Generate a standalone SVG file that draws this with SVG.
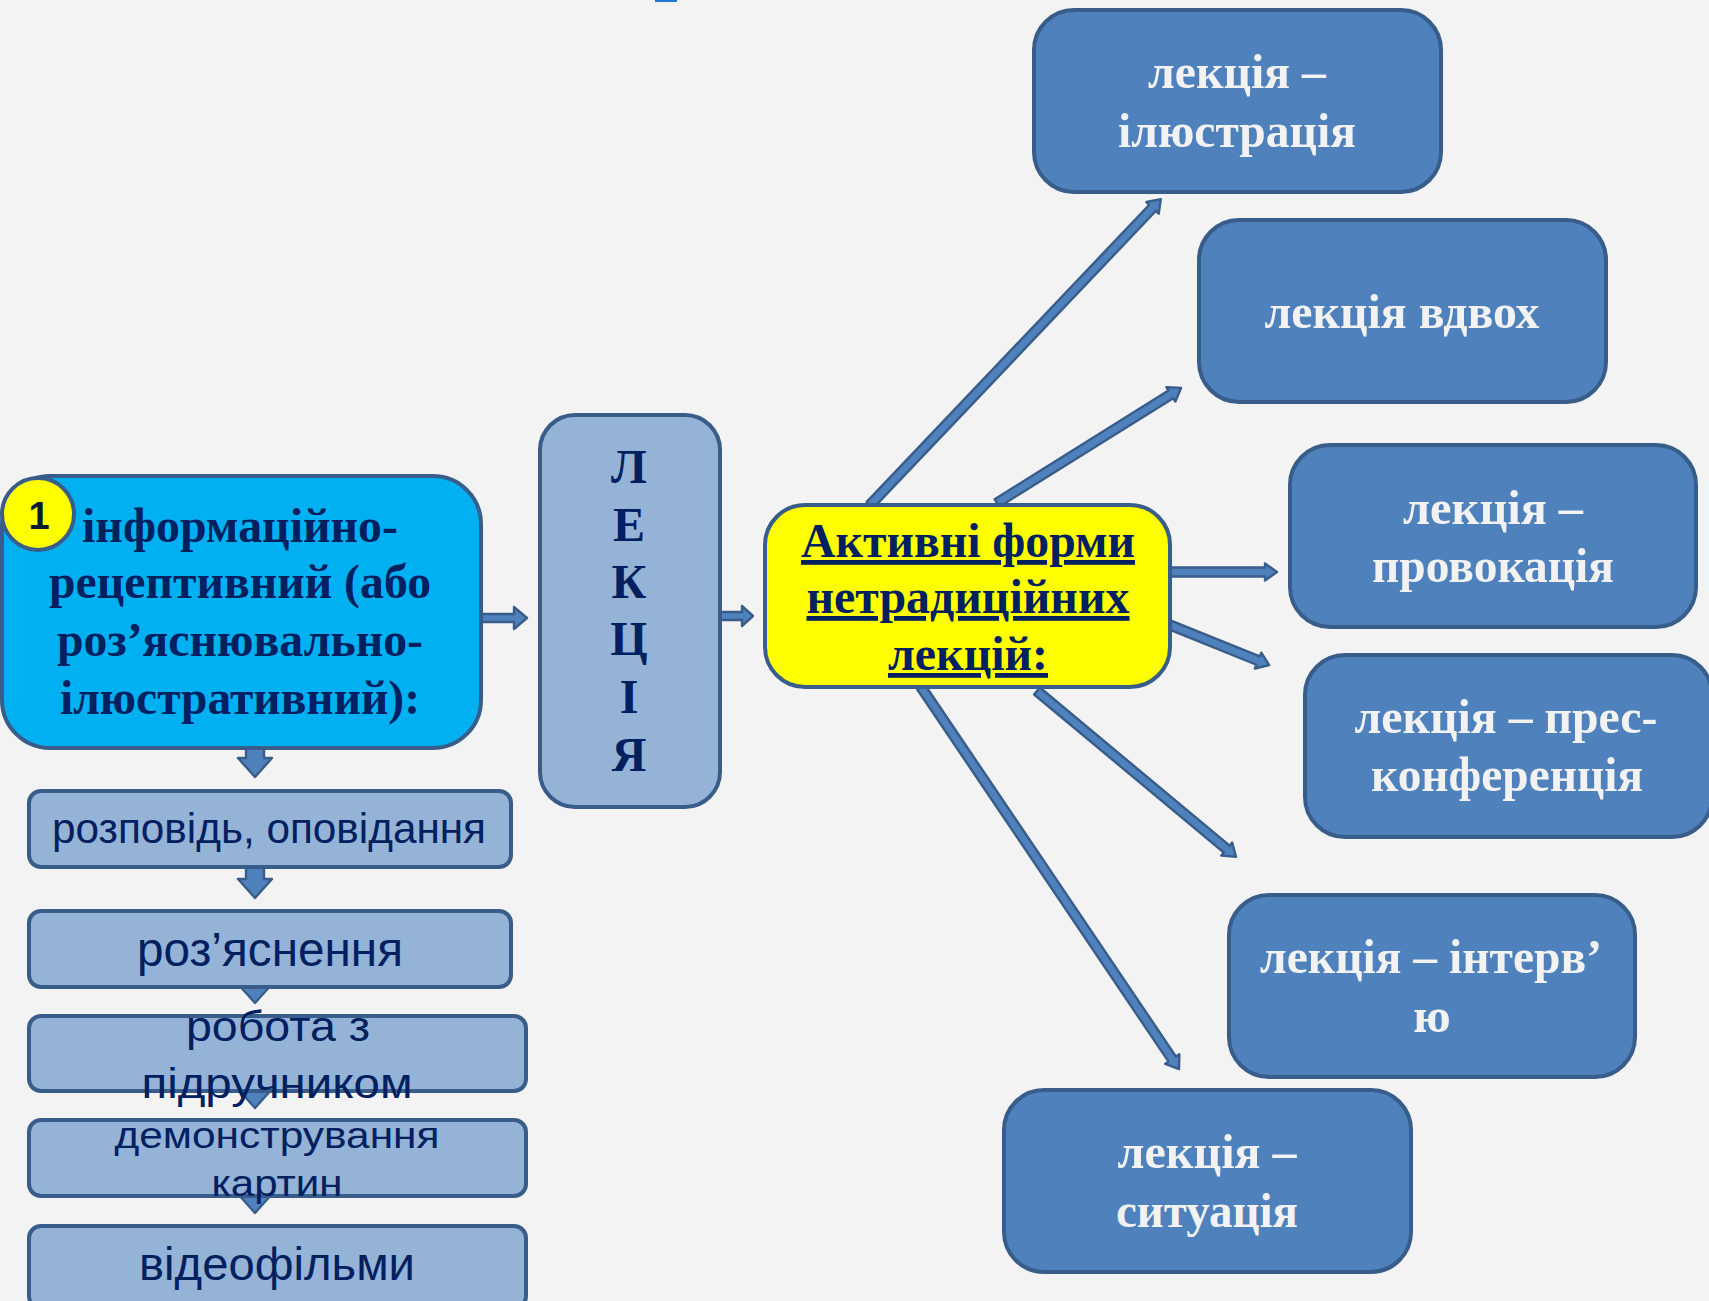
<svg xmlns="http://www.w3.org/2000/svg" width="1709" height="1301" viewBox="0 0 1709 1301">
<style>
.bg{fill:#f3f3f3}
.dark{fill:#4f81bd;stroke:#385d8a;stroke-width:4}
.light{fill:#95b3d7;stroke:#385d8a;stroke-width:4}
.arr{fill:#4f81bd;stroke:#385d8a;stroke-width:2.4;stroke-linejoin:round}
.ser{font-family:"Liberation Serif","Times New Roman",serif;font-weight:bold;text-anchor:middle}
.navy{fill:#002060}
.wh{fill:#f2f2f2}
.sans{font-family:"Liberation Sans",Arial,sans-serif;text-anchor:middle;fill:#002060}
</style>
<rect class="bg" x="0" y="0" width="1709" height="1301"/>
<rect x="655" y="0" width="22" height="2" fill="#1f78d1"/>

<g id="connectors">
  <path class="arr" d="M481,614 H514 V607 L527,618 L514,629 V622 H481 Z"/>
  <path class="arr" d="M720,612 H742 V606 L753,616 L742,626 V620 H720 Z"/>
  <path class="arr" d="M246,748 H264 V758 H272 L255,777 L238,758 H246 Z"/>
  <path class="arr" d="M246,867 H264 V879 H272 L255,898 L238,879 H246 Z"/>
  <path class="arr" d="M246,975 H264 V984 H272 L255,1003 L238,984 H246 Z"/>
  <path class="arr" d="M246,1080 H264 V1089 H272 L255,1108 L238,1089 H246 Z"/>
  <path class="arr" d="M246,1185 H264 V1194 H272 L255,1213 L238,1194 H246 Z"/>
  <g transform="translate(870,505) rotate(-46.44)"><path class="arr" d="M0,-4.5 H410 V-8.5 L422,0 L410,8.5 V4.5 H0 Z"/></g>
  <g transform="translate(997,503) rotate(-32)"><path class="arr" d="M0,-4.5 H205 V-8.5 L217,0 L205,8.5 V4.5 H0 Z"/></g>
  <g transform="translate(1170,572)"><path class="arr" d="M0,-4.5 H95 V-8.5 L107,0 L95,8.5 V4.5 H0 Z"/></g>
  <g transform="translate(1170,625) rotate(22)"><path class="arr" d="M0,-4.5 H95 V-8.5 L107,0 L95,8.5 V4.5 H0 Z"/></g>
  <g transform="translate(1037,691) rotate(39.8)"><path class="arr" d="M0,-4.5 H247 V-8.5 L259,0 L247,8.5 V4.5 H0 Z"/></g>
  <g transform="translate(921,687) rotate(55.97)"><path class="arr" d="M0,-4.5 H449 V-8.5 L461,0 L449,8.5 V4.5 H0 Z"/></g>
</g>

<g id="node-info">
  <rect x="2" y="476" width="479" height="272" rx="48" fill="#00b0f0" stroke="#385d8a" stroke-width="4"/>
  <text class="ser navy" font-size="48"><tspan x="240" y="542" textLength="316" lengthAdjust="spacingAndGlyphs">інформаційно-</tspan><tspan x="240" y="598" textLength="382" lengthAdjust="spacingAndGlyphs">рецептивний (або</tspan><tspan x="240" y="656" textLength="366" lengthAdjust="spacingAndGlyphs">роз’яснювально-</tspan><tspan x="240" y="714" textLength="360" lengthAdjust="spacingAndGlyphs">ілюстративний):</tspan></text>
</g>
<g id="node-badge">
  <circle cx="38" cy="514" r="36" fill="#ffff00" stroke="#385d8a" stroke-width="4"/>
  <text x="39" y="529" font-family="'Liberation Sans',Arial,sans-serif" font-weight="bold" font-size="38" text-anchor="middle" fill="#0d1a33">1</text>
</g>

<g id="node-lektsii">
  <rect class="light" x="540" y="415" width="180" height="392" rx="35"/>
  <text class="ser navy" font-size="48"><tspan x="629" y="483">Л</tspan><tspan x="629" y="541">Е</tspan><tspan x="629" y="598">К</tspan><tspan x="629" y="655">Ц</tspan><tspan x="629" y="713">І</tspan><tspan x="629" y="771">Я</tspan></text>
</g>

<g id="node-active">
  <rect x="765" y="505" width="405" height="182" rx="40" fill="#ffff00" stroke="#385d8a" stroke-width="4"/>
  <text class="ser navy" font-size="48" text-decoration="underline"><tspan x="968" y="557" textLength="334" lengthAdjust="spacingAndGlyphs">Активні форми</tspan><tspan x="968" y="613" textLength="323" lengthAdjust="spacingAndGlyphs">нетрадиційних</tspan><tspan x="968" y="670" textLength="160" lengthAdjust="spacingAndGlyphs">лекцій:</tspan></text>
</g>

<g id="node-illustration">
  <rect class="dark" x="1034" y="10" width="407" height="182" rx="40"/>
  <text class="ser wh" font-size="49"><tspan x="1237" y="88" textLength="178" lengthAdjust="spacingAndGlyphs">лекція –</tspan><tspan x="1237" y="147" textLength="238" lengthAdjust="spacingAndGlyphs">ілюстрація</tspan></text>
</g>
<g id="node-vdvokh">
  <rect class="dark" x="1199" y="220" width="407" height="182" rx="40"/>
  <text class="ser wh" font-size="49" x="1402" y="328" textLength="275" lengthAdjust="spacingAndGlyphs">лекція вдвох</text>
</g>
<g id="node-provokatsiya">
  <rect class="dark" x="1290" y="445" width="406" height="182" rx="40"/>
  <text class="ser wh" font-size="49"><tspan x="1493" y="524" textLength="180" lengthAdjust="spacingAndGlyphs">лекція –</tspan><tspan x="1493" y="582" textLength="242" lengthAdjust="spacingAndGlyphs">провокація</tspan></text>
</g>
<g id="node-pres">
  <rect class="dark" x="1305" y="655" width="407" height="182" rx="40"/>
  <text class="ser wh" font-size="49"><tspan x="1506" y="733" textLength="303" lengthAdjust="spacingAndGlyphs">лекція – прес-</tspan><tspan x="1507" y="791" textLength="272" lengthAdjust="spacingAndGlyphs">конференція</tspan></text>
</g>
<g id="node-interview">
  <rect class="dark" x="1229" y="895" width="406" height="182" rx="40"/>
  <text class="ser wh" font-size="49"><tspan x="1431" y="973" textLength="342" lengthAdjust="spacingAndGlyphs">лекція – інтерв’</tspan><tspan x="1432" y="1032">ю</tspan></text>
</g>
<g id="node-situation">
  <rect class="dark" x="1004" y="1090" width="407" height="182" rx="40"/>
  <text class="ser wh" font-size="49"><tspan x="1207" y="1168" textLength="179" lengthAdjust="spacingAndGlyphs">лекція –</tspan><tspan x="1207" y="1227" textLength="182" lengthAdjust="spacingAndGlyphs">ситуація</tspan></text>
</g>

<g id="node-rozpovid">
  <rect class="light" x="29" y="791" width="482" height="76" rx="12"/>
  <text class="sans" font-size="42" x="269" y="843" textLength="434" lengthAdjust="spacingAndGlyphs">розповідь, оповідання</text>
</g>
<g id="node-rozyasnennya">
  <rect class="light" x="29" y="911" width="482" height="76" rx="12"/>
  <text class="sans" font-size="48" x="270" y="966" textLength="266" lengthAdjust="spacingAndGlyphs">роз’яснення</text>
</g>
<g id="node-robota">
  <rect class="light" x="29" y="1016" width="497" height="75" rx="12"/>
  <text class="sans" font-size="42"><tspan x="278" y="1041" textLength="184" lengthAdjust="spacingAndGlyphs">робота з</tspan><tspan x="277" y="1098" textLength="271" lengthAdjust="spacingAndGlyphs">підручником</tspan></text>
</g>
<g id="node-demonstr">
  <rect class="light" x="29" y="1120" width="497" height="76" rx="12"/>
  <text class="sans" font-size="37"><tspan x="277" y="1148" textLength="325" lengthAdjust="spacingAndGlyphs">демонстрування</tspan><tspan x="277" y="1196" textLength="131" lengthAdjust="spacingAndGlyphs">картин</tspan></text>
</g>
<g id="node-video">
  <rect class="light" x="29" y="1226" width="497" height="82" rx="12"/>
  <text class="sans" font-size="46" x="277" y="1280" textLength="276" lengthAdjust="spacingAndGlyphs">відеофільми</text>
</g>
</svg>
